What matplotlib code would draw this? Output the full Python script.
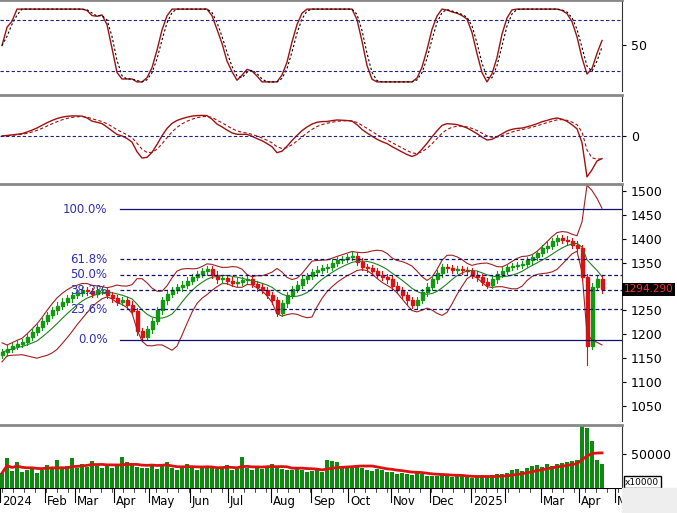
import matplotlib
matplotlib.use("Agg")
import matplotlib.pyplot as plt
import numpy as np
import pandas as pd
from matplotlib.patches import Rectangle

# ---- data (half-week bars, Jan 2024 - Apr 2025) ----
closes = [1162,1170,1175,1180,1184,1195,1205,1215,1228,1240,1250,1260,1268,1275,1282,1287,1293,1290,1284,1292,
          1293,1282,1275,1268,1271,1262,1249,1206,1195,1210,1228,1250,1271,1285,1293,1298,1304,1312,1320,1326,
          1332,1337,1325,1315,1318,1312,1308,1310,1314,1315,1305,1298,1293,1282,1271,1245,1265,1282,1295,1304,
          1315,1322,1330,1335,1338,1341,1350,1356,1358,1362,1365,1352,1341,1338,1332,1325,1320,1315,1302,1293,
          1282,1271,1262,1272,1288,1300,1315,1328,1341,1338,1335,1337,1334,1332,1325,1319,1310,1304,1315,1326,
          1333,1341,1343,1345,1347,1355,1362,1370,1380,1386,1395,1401,1398,1395,1388,1380,1320,1175,1300,1315,1294]
wick = 7
extreme_low = {117: 1135}
volumes = [22000,44000,25000,38000,24000,26000,30000,22000,27000,34000,28000,41000,30000,33000,45000,29000,36000,31000,40000,33000,
           30000,35000,29000,32000,46000,38000,34000,31000,30000,29000,35000,28000,33000,38000,30000,27000,31000,35000,29000,26000,
           33000,31000,30000,28000,31000,34000,27000,30000,46000,29000,26000,30000,28000,33000,35000,31000,28000,27000,26000,29000,
           26000,24000,25000,28000,24000,42000,40000,38000,30000,33000,30000,31000,29000,27000,25000,28000,26000,24000,23000,21000,
           22000,20000,19000,24000,21000,18000,17000,18000,20000,17000,16000,18000,17000,16000,15000,16000,18000,17000,19000,20000,
           20000,22000,26000,28000,25000,30000,33000,34000,31000,36000,33000,35000,37000,39000,40000,41000,91000,88000,70000,42000,35000]
fib_low, fib_high = 1188, 1462
fib_levels = [0.0, 0.236, 0.382, 0.5, 0.618, 1.0]
month_labels = ["2024","Feb","Mar","Apr","May","Jun","Jul","Aug","Sep","Oct","Nov","Dec","2025","","Mar","Apr","M"]
month_px = [0,45,75,114,149,190,228,271,311,348,391,430,471,505,541,579,615]
price_ticks = [1050,1100,1150,1200,1250,1350,1400,1450,1500]
last_price = "1294.290"

c = pd.Series(closes, dtype=float)
o = c.shift(1).fillna(c.iloc[0]-5)
n = len(c)
idx = np.arange(n)

W, H = 677, 513
fig = plt.figure(figsize=(W/100, H/100), dpi=100)
def ax_at(top, bot):
    return fig.add_axes([0, 1-bot/H, 622/W, (bot-top)/H])
ax1 = ax_at(0, 91); ax2 = ax_at(95, 181); ax3 = ax_at(184, 421); ax4 = ax_at(425, 488)
xl = (-0.4, 124.0)
for a in (ax1, ax2, ax3, ax4):
    a.set_xlim(*xl)
    a.yaxis.tick_right()
    a.set_xticks([])
    for s in ("left", "bottom"):
        a.spines[s].set_visible(False)
    a.spines["top"].set_color("#888888"); a.spines["top"].set_linewidth(2)
    a.spines["right"].set_color("#333333")
    a.tick_params(axis="y", labelsize=9, direction="out", length=3)

# stochastic
lo = c.rolling(9, min_periods=1).min(); hi = c.rolling(9, min_periods=1).max()
k = (100*(c-lo)/(hi-lo).replace(0, np.nan)).fillna(50)
k = k.rolling(3, min_periods=1).mean()*0.72+14
d = k.rolling(2, min_periods=1).mean()
ax1.plot(idx, k, color="#a01010", lw=1)
ax1.plot(idx, d, color="black", lw=0.8, ls=(0,(2,2)))
ax1.set_ylim(5, 95)
for lv in (75, 25):
    ax1.axhline(lv, color="#202080", lw=0.8, ls=(0,(3,2)))
ax1.set_yticks([50])

# MACD
e1 = c.ewm(span=5).mean(); e2 = c.ewm(span=10).mean()
macd = e1-e2; sig = macd.ewm(span=4).mean()
ax2.plot(idx, macd, color="#a01010", lw=1)
ax2.plot(idx, sig, color="#a01010", lw=0.8, ls=(0,(3,2)))
m = max(abs(macd.min()), abs(macd.max()))
ax2.set_ylim(-m*1.1, m*1.0)
ax2.axhline(0, color="#202080", lw=0.8, ls=(0,(3,2)))
ax2.set_yticks([0])

# price
ma = c.rolling(8, min_periods=1).mean(); sd = c.rolling(8, min_periods=2).std().fillna(10)
ax3.plot(idx, ma+2*sd, color="#a02020", lw=0.8)
ax3.plot(idx, ma-2*sd, color="#a02020", lw=0.8)
ax3.plot(idx, ma, color="#208020", lw=0.8)
for i in range(n):
    up = c[i] >= o[i]
    col = "#119911" if up else "#dd1111"
    top_, bot_ = max(c[i], o[i]), min(c[i], o[i])
    low = extreme_low.get(i, bot_-wick)
    ax3.plot([i, i], [low, top_+wick], color=col, lw=0.8)
    ax3.add_patch(Rectangle((i-0.3, bot_), 0.6, max(top_-bot_, 1), color=col))
ax3.set_ylim(1018, 1515)
ax3.set_yticks(price_ticks)
x0 = (120-2)/5
for f in fib_levels:
    y = fib_low + f*(fib_high-fib_low)
    solid = f in (0.0, 1.0)
    ax3.plot([x0, xl[1]], [y, y], color="#101070", lw=0.9, ls="-" if solid else (0,(3,2)))
    ax3.text(x0-2.5, y, f"{f*100:.1f}%", ha="right", va="center", color="#3030b0", fontsize=8.5)
ax3.text(1.003, (1294.29-1018)/(1515-1018), last_price, transform=ax3.transAxes, ha="left", va="center",
         color="#ff3030", fontsize=7.5, bbox=dict(facecolor="black", edgecolor="none", pad=1.2))

# volume
v = pd.Series(volumes, dtype=float)
ax4.bar(idx, v, width=0.8, color="#118811")
ax4.plot(idx, v.rolling(10, min_periods=1).mean(), color="#dd1111", lw=2)
ax4.set_ylim(0, 93000)
ax4.set_yticks([50000])
ax4.text(1.005, 0.02, "x10000", transform=ax4.transAxes, fontsize=6.5, va="bottom",
         bbox=dict(facecolor="white", edgecolor="black", pad=1))

# date axis
axd = fig.add_axes([0, 0, 622/W, (513-488)/H])
axd.set_xlim(*xl); axd.set_ylim(0, 1); axd.axis("off")
for lab, px in zip(month_labels, month_px):
    xi = (px-2)/5
    axd.plot([xi, xi], [0.45, 1], color="black", lw=0.8)
    axd.text(xi+0.4, 0.45, lab, fontsize=8.5, va="center", ha="left")
for t in np.arange(0, 124, 2.2):
    axd.plot([t, t], [0.85, 1], color="black", lw=0.5)
axd.plot(list(xl), [1, 1], color="black", lw=0.8)
fig.patches.append(Rectangle((622/W, 0), 1, 25/H, transform=fig.transFigure, color="#eeeeee"))

fig.savefig("out.png", dpi=100)
